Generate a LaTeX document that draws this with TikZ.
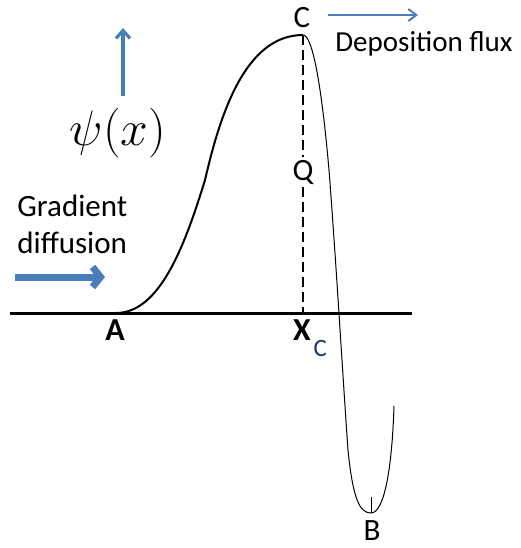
\documentclass[tikz,border=0pt]{standalone}
\usepackage{fontspec}
\newfontfamily\calibri{Carlito}
\usetikzlibrary{arrows.meta}
\definecolor{fluxblue}{RGB}{74,126,187}
\definecolor{subblue}{RGB}{31,56,100}
\begin{document}
\begin{tikzpicture}[x=0.5pt, y=-0.5pt,
  lbl/.style={font=\calibri\fontsize{15.5}{18}\selectfont, inner sep=1pt},
  boldlbl/.style={lbl, font=\calibri\bfseries\fontsize{16}{18}\selectfont},
  txt/.style={font=\calibri\fontsize{15.5}{18.5}\selectfont, inner sep=0pt, align=left},
  blue arrow/.style={draw=fluxblue, line width=#1, -{Straight Barb[length=4pt, width=6pt]}}]
  \useasboundingbox (0,0) rectangle (521,548);
  % x axis
  \draw[line width=1.5pt] (10,313) -- (412,313);
  % psi curve, rising side
  \draw[line width=1pt] (116,313) .. controls (160,313) and (185,245) .. (205,180)
    .. controls (220,115) and (245,35) .. (303,35);
  % falling side and well
  \draw[line width=0.5pt] (303,35) .. controls (313,35) and (322,90) .. (329,170)
    .. controls (336,260) and (343,380) .. (348,450)
    .. controls (353,500) and (360,513) .. (371,513)
    .. controls (384,513) and (392,470) .. (394,406);
  \coordinate (peak) at (303,35);
  \coordinate (foot) at (303,313);
  \coordinate (well) at (371,513);
  \coordinate (welltick) at (371,497);
  \draw[line width=0.4pt] (well) -- (welltick);
  % point labels
  \node[lbl] (C) at (302,18) {C};
  \node[lbl, fill=white] (Q) at (303,172) {Q};
  \node[boldlbl] (A) at (115,330) {A};
  \node[boldlbl] (X) at (302,330) {X};
  \node[lbl, font=\calibri\fontsize{12.5}{14}\selectfont, text=subblue, anchor=west, inner sep=0pt] (Xsub) at ([yshift=-3pt]X.south east) {C};
  \node[lbl] (B) at (372,531) {B};
  \draw[line width=0.8pt, dash pattern=on 5pt off 2.5pt] (peak) -- (Q) -- (foot);
  % psi(x) with its arrow
  \node[font=\fontsize{25}{28}\selectfont] (psi) at (118,133) {$\psi(x)$};
  \coordinate (psitail) at (123,96);
  \coordinate (psihead) at (123,28);
  \draw[blue arrow=1.6pt, -{Straight Barb[length=4pt, width=7pt]}] (psitail) -- (psihead);
  % fluxes
  \node[txt, anchor=west] (grad) at (17,224) {Gradient\\diffusion};
  \coordinate (gradtail) at (15,277);
  \coordinate (gradhead) at (105,277);
  \draw[blue arrow=3.5pt, -{Straight Barb[length=4pt, width=10pt]}] (gradtail) -- (gradhead);
  \node[txt, font=\calibri\fontsize{14.5}{17}\selectfont, anchor=west] (dep) at (335,44) {Deposition flux};
  \coordinate (deptail) at (328,15);
  \coordinate (dephead) at (418,15);
  \draw[blue arrow=1pt] (deptail) -- (dephead);
\end{tikzpicture}
\end{document}
